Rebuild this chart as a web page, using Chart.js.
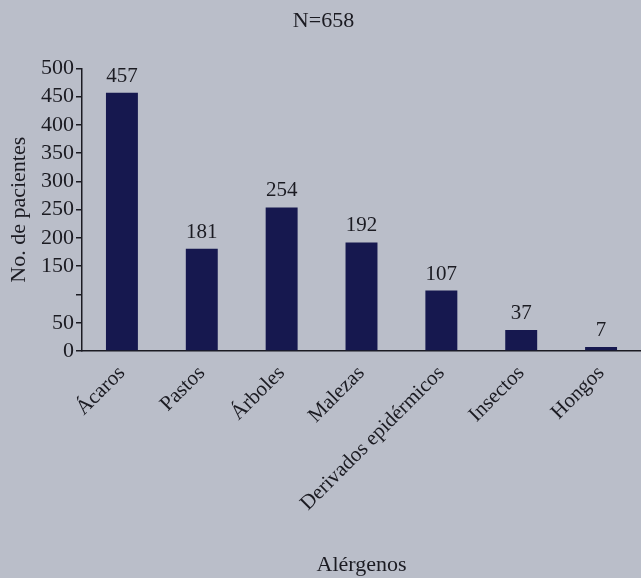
<!DOCTYPE html>
<html>
  <head>
    <meta charset="UTF-8" />
    <title>Alérgenos</title>
    <style>
      body {
        margin: 0;
        padding: 0;
        background-color: #babec9;
      }
      .chart-container {
        width: 641px;
        height: 578px;
        position: relative;
      }
    </style>
  </head>
  <body>
    <div class="chart-container">
      <canvas id="alergenosChart"></canvas>
    </div>

    <script src="https://cdn.jsdelivr.net/npm/chart.js"></script>
    <script>
      const categorias = ["Ácaros", "Pastos", "Árboles", "Malezas", "Derivados epidérmicos", "Insectos", "Hongos"];
      const pacientes = [457, 181, 254, 192, 107, 37, 7];
      // la etiqueta 100 no aparece en el original
      const etiquetasY = { 0: "0", 50: "50", 100: "", 150: "150", 200: "200", 250: "250", 300: "300", 350: "350", 400: "400", 450: "450", 500: "500" };

      const fuente = "'Liberation Serif', 'DejaVu Serif', serif";
      const negro = "#1b1b22";

      // números encima de cada barra
      const valoresPlugin = {
        id: "valores",
        afterDatasetsDraw(chart) {
          const ctx = chart.ctx;
          const meta = chart.getDatasetMeta(0);
          ctx.save();
          ctx.font = "21px " + fuente;
          ctx.fillStyle = negro;
          ctx.textAlign = "center";
          ctx.textBaseline = "bottom";
          meta.data.forEach((bar, i) => {
            ctx.fillText(pacientes[i], bar.x, bar.y - 6);
          });
          ctx.restore();
        },
      };

      new Chart(document.getElementById("alergenosChart"), {
        type: "bar",
        data: {
          labels: categorias,
          datasets: [
            {
              data: pacientes,
              backgroundColor: "#16184f",
              categoryPercentage: 1,
              barPercentage: 0.4,
            },
          ],
        },
        options: {
          responsive: true,
          maintainAspectRatio: false,
          animation: false,
          layout: { padding: { left: 6, right: 0, top: 0, bottom: 0 } },
          plugins: {
            legend: { display: false },
            tooltip: { enabled: false },
            title: {
              display: true,
              text: "N=658",
              color: negro,
              font: { family: fuente, size: 22, weight: "normal" },
              padding: { top: 8, bottom: 34 },
            },
          },
          scales: {
            x: {
              border: { color: negro, width: 1.5 },
              grid: { display: false },
              ticks: {
                color: negro,
                font: { family: fuente, size: 21 },
                minRotation: 45,
                maxRotation: 45,
                autoSkip: false,
                padding: 2,
              },
              title: {
                display: true,
                text: "Alérgenos",
                color: negro,
                font: { family: fuente, size: 22 },
                padding: { top: 0, bottom: 0 },
              },
              afterFit(scale) {
                scale.height = 227;
              },
            },
            y: {
              min: 0,
              max: 500,
              border: { color: negro, width: 1.5 },
              grid: {
                drawOnChartArea: false,
                drawTicks: true,
                tickLength: 6,
                color: negro,
                lineWidth: 1.5,
              },
              ticks: {
                stepSize: 50,
                autoSkip: false,
                color: negro,
                font: { family: fuente, size: 22 },
                padding: 2,
                callback: (v) => etiquetasY[v],
              },
              title: {
                display: true,
                text: "No. de pacientes",
                color: negro,
                font: { family: fuente, size: 22 },
                padding: { top: 0, bottom: 0 },
              },
              afterFit(scale) {
                scale.width = 76;
              },
            },
          },
        },
        plugins: [valoresPlugin],
      });
    </script>
  </body>
</html>
